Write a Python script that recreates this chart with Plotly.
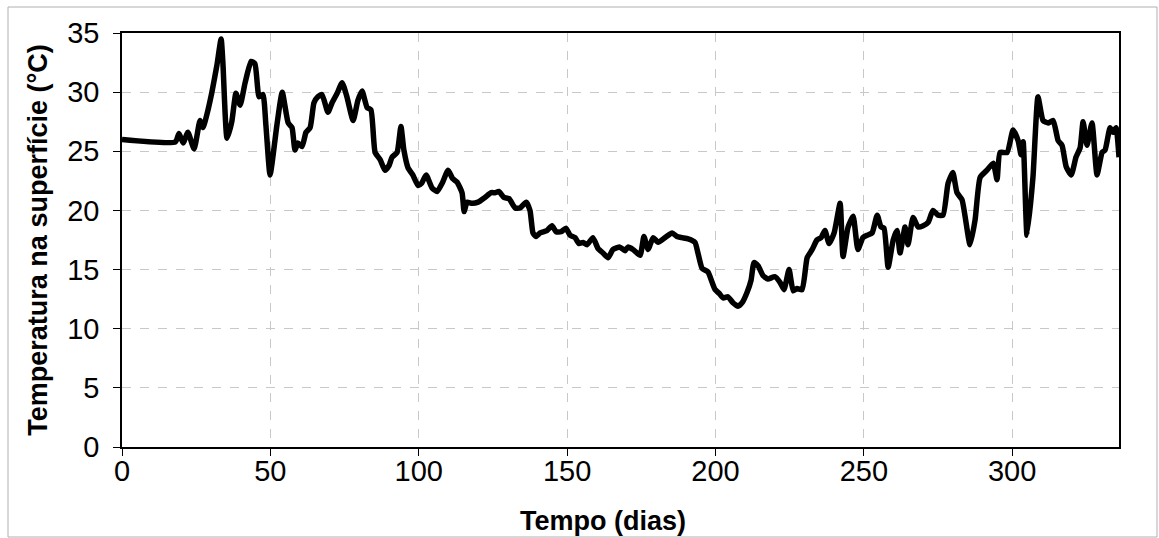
import plotly.graph_objects as go

days = [0, 18, 19.2, 20.6, 22.2, 24.3, 26.3, 27.3, 28.6, 30.3, 32.0, 33.4, 34.0, 35.4, 37.0, 38.4, 39.8,
        41.5, 43.5, 44.8, 46.2, 47.5, 48.5, 49.9, 52.2, 54.0, 56.0, 57.3, 58.3, 59.3, 60.7, 62.0, 63.4,
        64.7, 66.0, 67.4, 69.4, 70.8, 72.5, 74.2, 75.8, 77.9, 79.5, 80.9, 82.6, 83.9, 85.3, 87.0, 88.6,
        90.0, 91.0, 92.7, 94.0, 95.0, 96.4, 98.0, 99.8, 101.0, 102.5, 104.5, 106.2, 107.9, 109.9, 111.4,
        112.9, 114.6, 115.3, 116.3, 118.0, 120.0, 122.3, 124.4, 125.7, 127.0, 128.7, 130.4, 132.5, 134.1,
        136.2, 137.5, 138.5, 139.5, 140.9, 143.2, 144.9, 146.3, 148.0, 149.6, 151.0, 152.7, 154.0, 155.4,
        156.7, 158.7, 160.4, 162.1, 163.8, 165.5, 167.8, 169.5, 170.5, 172.2, 174.6, 175.9, 177.3, 179.0,
        180.7, 183.0, 185.4, 187.0, 188.7, 190.8, 193.1, 194.1, 195.5, 197.5, 198.9, 199.9, 201.2, 202.6,
        204.2, 205.9, 207.6, 209.0, 210.7, 212.0, 213.0, 214.4, 216.0, 217.7, 220.0, 221.8, 223.1, 224.8,
        226.2, 227.5, 229.2, 230.9, 232.6, 234.2, 235.6, 236.9, 238.3, 240.0, 242.0, 243.0, 244.7, 246.4,
        248.0, 249.7, 251.1, 252.8, 254.5, 255.8, 256.8, 258.2, 259.9, 261.2, 262.2, 263.9, 264.9, 266.6,
        268.3, 270.0, 271.7, 273.3, 275.0, 276.7, 278.4, 280.0, 281.4, 283.1, 285.8, 287.5, 289.2, 291.5,
        293.6, 294.9, 295.9, 298.3, 300.3, 302.0, 303.0, 303.7, 305.0, 307.0, 308.7, 310.4, 312.1, 313.8,
        315.5, 316.8, 318.2, 319.9, 321.5, 322.9, 323.9, 325.2, 326.9, 328.6, 330.3, 331.3, 333.0, 334.0,
        335.0, 336.0]

temps = [26.0, 25.8, 26.5, 25.7, 26.6, 25.2, 27.6, 27.0, 28.1, 30.0, 32.3, 34.5, 32.5, 26.1, 27.5, 29.9, 28.9,
         30.8, 32.6, 32.4, 29.6, 29.8, 27.2, 23.0, 27.2, 30.0, 27.4, 27.0, 25.1, 25.7, 25.4, 26.6, 27.0,
         29.1, 29.6, 29.8, 28.3, 29.1, 29.9, 30.8, 29.6, 27.6, 29.3, 30.1, 28.7, 28.5, 24.9, 24.3, 23.4,
         23.8, 24.5, 24.9, 27.1, 25.1, 23.6, 23.0, 22.1, 22.3, 23.0, 21.9, 21.6, 22.3, 23.4, 22.7,
         22.4, 21.5, 19.9, 20.7, 20.6, 20.7, 21.1, 21.5, 21.5, 21.6, 21.1, 21.0, 20.2, 20.2,
         20.7, 20.0, 18.1, 17.8, 18.1, 18.3, 18.7, 18.2, 18.2, 18.5, 17.9, 17.7, 17.2, 17.3,
         17.1, 17.7, 16.8, 16.4, 16.0, 16.7, 16.9, 16.6, 16.9, 16.7, 16.2, 17.8, 16.7, 17.7,
         17.3, 17.7, 18.1, 17.8, 17.7, 17.6, 17.3, 16.4, 15.1, 14.8, 13.9, 13.3, 13.0, 12.6,
         12.7, 12.2, 11.9, 12.2, 13.1, 14.1, 15.6, 15.3, 14.5, 14.2, 14.4, 13.9, 13.3, 15.0,
         13.2, 13.4, 13.3, 16.0, 16.7, 17.5, 17.7, 18.3, 17.2, 18.1, 20.6, 16.1, 18.6, 19.5,
         16.7, 17.7, 17.9, 18.1, 19.6, 18.6, 18.5, 15.2, 17.5, 18.3, 16.4, 18.6, 17.1, 19.4,
         18.6, 18.7, 19.0, 20.0, 19.6, 19.6, 22.3, 23.2, 21.5, 20.9, 17.1, 19.2, 22.8, 23.4,
         24.0, 22.6, 24.9, 24.9, 26.8, 25.9, 24.7, 25.8, 17.9, 22.8, 29.6, 27.6, 27.4, 27.6,
         25.9, 25.5, 23.7, 23.0, 24.5, 25.3, 27.5, 25.5, 27.4, 23.0, 24.9, 25.1, 27.0, 26.6,
         27.0, 24.5]

x_ticks = [0, 50, 100, 150, 200, 250, 300]
y_ticks = [0, 5, 10, 15, 20, 25, 30, 35]
x_title = "Tempo (dias)"
y_title = "Temperatura na superfície (°C)"

FONT = "Arial, Liberation Sans, sans-serif"

fig = go.Figure()
fig.add_trace(go.Scatter(
    x=days, y=temps, mode="lines",
    line=dict(color="black", width=5.5, shape="spline", smoothing=0.5),
    showlegend=False, hoverinfo="x+y",
))

W, H = 1159, 538
L, R, T, B = 122, 40, 33, 91
pw, ph = W - L - R, H - T - B

fig.update_layout(
    width=W, height=H,
    margin=dict(l=L, r=R, t=T, b=B),
    paper_bgcolor="white", plot_bgcolor="white",
    font=dict(family=FONT, color="black"),
)
fig.update_xaxes(
    range=[0, 336], tickvals=x_ticks, ticktext=[str(v) for v in x_ticks],
    showline=True, linecolor="black", linewidth=1.5, mirror=True,
    ticks="outside", ticklen=7, tickcolor="black", tickwidth=1,
    ticklabelstandoff=-10, automargin=False,
    showgrid=True, gridcolor="#c8c8c8", griddash="dash", gridwidth=1,
    zeroline=False,
    tickfont=dict(size=29, family=FONT, color="black"),
)
fig.update_yaxes(
    range=[0, 35], tickvals=y_ticks, ticktext=[str(v) for v in y_ticks],
    showline=True, linecolor="black", linewidth=1.5, mirror=True,
    ticks="outside", ticklen=7, tickcolor="black", tickwidth=1,
    ticklabelstandoff=8, automargin=False,
    showgrid=True, gridcolor="#c8c8c8", griddash="dash", gridwidth=1,
    zeroline=False,
    tickfont=dict(size=29, family=FONT, color="black"),
    title=dict(text="<b>" + y_title + "</b>", font=dict(size=27, family=FONT, color="black"), standoff=12),
)

# x-axis title (slightly left of centre, as in the original)
fig.add_annotation(text="<b>" + x_title + "</b>", xref="paper", yref="paper",
                   x=(603 - L) / pw, y=(H - B - 521) / ph, xanchor="center", yanchor="middle",
                   showarrow=False, font=dict(size=27, family=FONT, color="black"))

# thin frame around the whole chart
fig.add_shape(type="rect", xref="paper", yref="paper",
              x0=(8 - L) / pw, x1=(1157 - L) / pw,
              y0=(H - B - 537) / ph, y1=(H - B - 7) / ph,
              line=dict(color="#b0b0b0", width=1), fillcolor="rgba(0,0,0,0)", layer="below")

fig.write_html("out.html")
